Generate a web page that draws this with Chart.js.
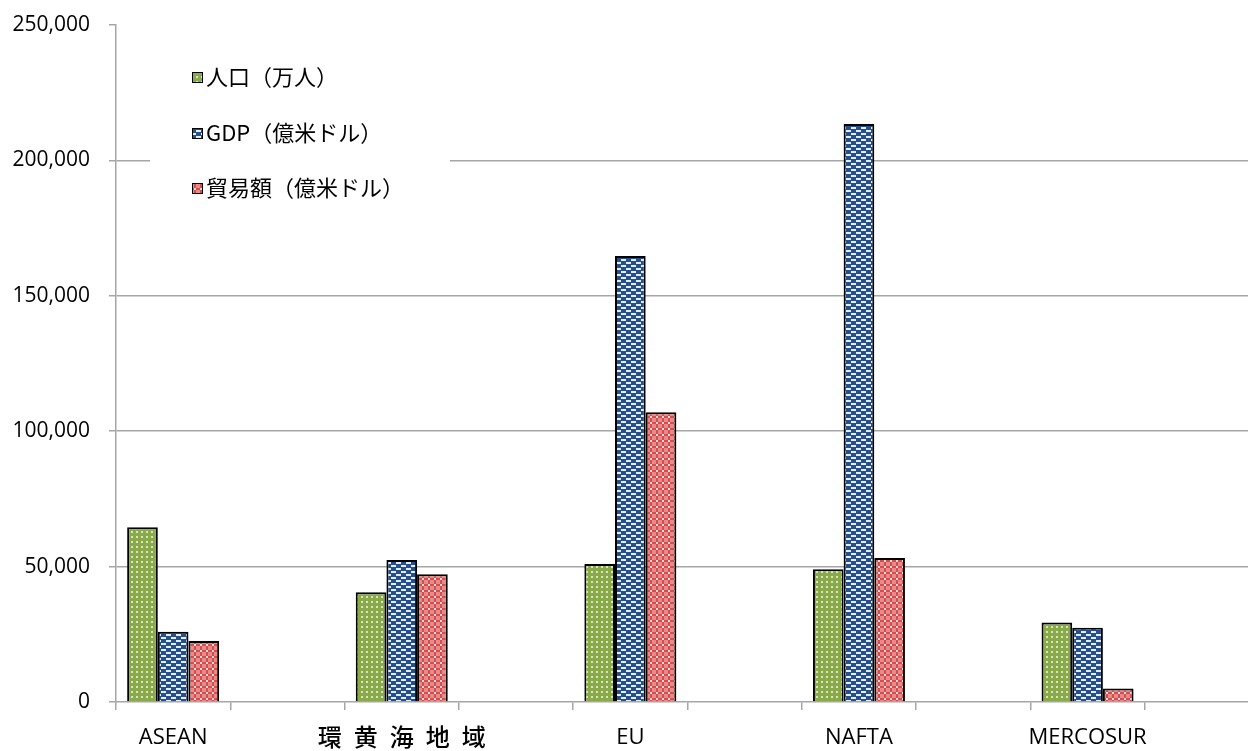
<!DOCTYPE html>
<html>
<head>
<meta charset="utf-8">
<script src="https://cdn.jsdelivr.net/npm/chart.js@4/dist/chart.umd.min.js"></script>
<style>
  html, body { margin: 0; padding: 0; background: #fff; overflow: hidden; }
  #wrap { width: 1262px; height: 751px; }
</style>
</head>
<body>
<div id="wrap"><canvas id="tradeChart" width="1262" height="751"></canvas></div>
<script>
// Regions (blank slots keep the wide spacing between groups)
const regions = ['ASEAN', '', '環黄海地域', '', 'EU', '', 'NAFTA', '', 'MERCOSUR', ''];
const population = [64500, null, 40500, null, 51000, null, 49000, null, 29400, null];
const gdp = [25900, null, 52400, null, 164700, null, 213400, null, 27400, null];
const trade = [22500, null, 47200, null, 107000, null, 53200, null, 5000, null];
const seriesNames = ['人口（万人）', 'GDP（億米ドル）', '貿易額（億米ドル）'];
const yTicks = [0, 50000, 100000, 150000, 200000, 250000];

const JP = '"Noto Sans CJK JP", "Open Sans", sans-serif';
const LATIN = '"Open Sans", sans-serif';

// small tiled fills for the bars
function makePattern(kind) {
  var c = document.createElement('canvas');
  var g = c.getContext('2d');
  if (kind === 'dots') {
    c.width = 5; c.height = 5;
    g.fillStyle = '#89a94a'; g.fillRect(0, 0, 5, 5);
    g.fillStyle = '#d8e6bc'; g.fillRect(1, 1, 2, 2);
  } else if (kind === 'dash') {
    c.width = 10; c.height = 6;
    g.fillStyle = '#25508c'; g.fillRect(0, 0, 10, 6);
    g.fillStyle = '#e4ecf6';
    g.fillRect(1, 1, 5, 2);
    g.fillRect(6, 4, 4, 2); g.fillRect(0, 4, 1, 2);
  } else {
    c.width = 6; c.height = 6;
    g.fillStyle = '#e88a8a'; g.fillRect(0, 0, 6, 6);
    g.fillStyle = '#d24d4d';
    g.fillRect(2, 0, 2, 6); g.fillRect(0, 2, 6, 2);
    g.fillStyle = '#f8dcdc'; g.fillRect(2, 2, 2, 2);
  }
  var ctx = document.getElementById('tradeChart').getContext('2d');
  return ctx.createPattern(c, 'repeat');
}

const fills = [makePattern('dots'), makePattern('dash'), makePattern('cross')];

// legend drawn inside the plot on a white box
const innerLegend = {
  id: 'innerLegend',
  afterDraw(chart) {
    const ctx = chart.ctx;
    ctx.save();
    ctx.fillStyle = '#fff';
    ctx.fillRect(150, 50, 300, 165);
    const rows = [77, 133, 188];
    chart.data.datasets.forEach(function (ds, i) {
      ctx.fillStyle = ds.backgroundColor;
      ctx.fillRect(192, rows[i] - 5, 11, 11);
      ctx.strokeStyle = '#000';
      ctx.lineWidth = 1;
      ctx.strokeRect(192.5, rows[i] - 4.5, 10, 10);
      ctx.fillStyle = '#000';
      ctx.font = '22px ' + JP;
      ctx.textBaseline = 'middle';
      ctx.fillText(ds.label, 206, rows[i]);
    });
    ctx.restore();
  }
};

function createChart() {
  var ctx = document.getElementById('tradeChart').getContext('2d');
  new Chart(ctx, {
    type: 'bar',
    data: {
      labels: regions,
      datasets: [population, gdp, trade].map(function (vals, i) {
        return {
          label: seriesNames[i],
          data: vals,
          backgroundColor: fills[i],
          borderColor: '#000',
          borderWidth: 2,
          borderSkipped: 'bottom'
        };
      })
    },
    options: {
      responsive: false,
      animation: false,
      layout: { padding: { top: 25, right: 3, left: 0, bottom: 0 } },
      categoryPercentage: 0.805,
      barPercentage: 1,
      plugins: { legend: { display: false }, tooltip: { enabled: false } },
      scales: {
        x: {
          afterFit: function (s) { s.height = 49; },
          border: { color: '#a6a6a6', width: 1.5 },
          grid: {
            offset: true,
            drawOnChartArea: false,
            color: '#a6a6a6',
            lineWidth: 1.5,
            tickLength: 8
          },
          ticks: {
            autoSkip: false,
            maxRotation: 0,
            padding: 15,
            color: '#000',
            callback: function (v, i) {
              var name = this.getLabelForValue(v);
              // the Japanese region name is set wide
              return i === 2 ? name.split('').join('\u2002') : name;
            },
            font: function (c) {
              if (c.index === 2) return { family: JP, size: 24, weight: '500', lineHeight: 1 };
              return { family: LATIN, size: 22 };
            }
          }
        },
        y: {
          min: 0,
          max: 250000,
          afterFit: function (s) {
            s.width = 116;
            s.paddingTop = 0;
            s.paddingBottom = 0;
          },
          afterBuildTicks: function (s) { s.ticks = yTicks.map(function (v) { return { value: v }; }); },
          border: { color: '#a6a6a6', width: 1.5 },
          grid: {
            color: function (c) {
              return (c.tick && (c.tick.value === 0 || c.tick.value === 250000)) ? 'rgba(0,0,0,0)' : '#a6a6a6';
            },
            lineWidth: 1.5,
            tickLength: 7,
            tickColor: '#a6a6a6'
          },
          ticks: {
            padding: 19,
            color: '#000',
            font: { family: LATIN, size: 21 },
            callback: function (v) { return v.toLocaleString('en-US'); }
          }
        }
      }
    },
    plugins: [innerLegend]
  });
}

window.onload = function () {
  createChart();
};
</script>
</body>
</html>
